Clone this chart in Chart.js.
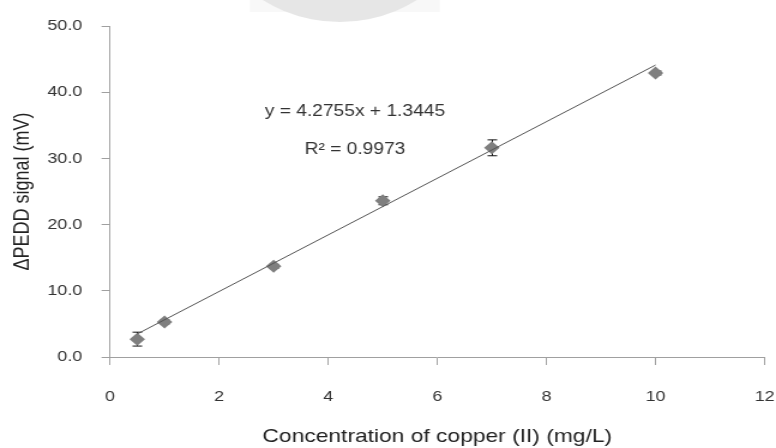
<!DOCTYPE html>
<html>
<head>
<meta charset="utf-8">
<script src="https://cdn.jsdelivr.net/npm/chart.js@4.4.0/dist/chart.umd.min.js"></script>
<style>
  html, body { margin: 0; padding: 0; background: #fff; overflow: hidden; }
  #wrap { width: 776px; height: 448px; }
  /* the reference is stretched sideways, so draw narrow and stretch */
  #c { transform-origin: 0 0; transform: scaleX(1.1994); }
</style>
</head>
<body>
<div id="wrap"><canvas id="c" width="647" height="448"></canvas></div>
<script>
// data
const concentrations = [0.5, 1, 3, 5, 7, 10];
const signals = [2.7, 5.3, 13.7, 23.6, 31.6, 42.9];
const errors = [1.05, 0.3, 0.3, 0.6, 1.2, 0.3];
const fitSlope = 4.2755;
const fitIntercept = 1.3445;
const fitR2 = 0.9973;
const fitRange = [0.5, 10];

const FONT = '"Liberation Sans", Arial, sans-serif';
const AXIS_GRAY = '#a0a0a0';

const points = concentrations.map((x, i) => ({ x, y: signals[i] }));
const fitLine = fitRange.map(x => ({ x, y: fitSlope * x + fitIntercept }));

// faint watermark blob at the top
const watermark = {
  id: 'watermark',
  beforeDraw(chart) {
    const ctx = chart.ctx;
    ctx.save();
    ctx.fillStyle = '#f8f8f8';
    ctx.fillRect(250 / 1.2, 0, 190 / 1.2, 12);
    ctx.fillStyle = '#e6e6e6';
    ctx.beginPath();
    ctx.ellipse(340 / 1.2, -124, 146 / 1.2, 146, 0, 0, Math.PI * 2);
    ctx.fill();
    ctx.restore();
  }
};

const errorBars = {
  id: 'errorBars',
  beforeDatasetsDraw(chart) {
    const ctx = chart.ctx;
    const ys = chart.scales.y;
    const meta = chart.getDatasetMeta(1);
    ctx.save();
    ctx.strokeStyle = '#111';
    ctx.lineWidth = 1;
    meta.data.forEach((pt, i) => {
      const x = Math.round(pt.x) + 0.5;
      const top = ys.getPixelForValue(signals[i] + errors[i]);
      const bot = ys.getPixelForValue(signals[i] - errors[i]);
      ctx.beginPath();
      ctx.moveTo(x, top); ctx.lineTo(x, bot);
      ctx.moveTo(x - 4, top); ctx.lineTo(x + 4, top);
      ctx.moveTo(x - 4, bot); ctx.lineTo(x + 4, bot);
      ctx.stroke();
    });
    ctx.restore();
  }
};

const equation = {
  id: 'equation',
  afterDraw(chart) {
    const ctx = chart.ctx;
    const xs = chart.scales.x, ys = chart.scales.y;
    ctx.save();
    ctx.fillStyle = '#333';
    ctx.font = '16px ' + FONT;
    ctx.textAlign = 'center';
    ctx.textBaseline = 'middle';
    const cx = xs.getPixelForValue(4.49);
    ctx.fillText(`y = ${fitSlope}x + ${fitIntercept}`, cx, ys.getPixelForValue(37.0));
    ctx.fillText(`R\u00B2 = ${fitR2}`, cx, ys.getPixelForValue(31.3));
    ctx.restore();
  }
};

new Chart(document.getElementById('c'), {
  type: 'scatter',
  data: {
    datasets: [
      {
        type: 'line',
        data: fitLine,
        borderColor: '#555',
        borderWidth: 1,
        pointRadius: 0,
        fill: false
      },
      {
        data: points,
        pointStyle: 'rectRot',
        pointRadius: 6.5,
        backgroundColor: '#7f7f7f',
        borderColor: '#7f7f7f',
        borderWidth: 0
      }
    ]
  },
  options: {
    responsive: false,
    animation: false,
    layout: { padding: { top: 26, right: 9.5, left: 0, bottom: 0 } },
    plugins: { legend: { display: false }, tooltip: { enabled: false } },
    scales: {
      x: {
        type: 'linear',
        min: 0, max: 12,
        afterFit(s) { s.height = 91; s.paddingRight = 0; s.paddingLeft = 0; },
        ticks: { stepSize: 2, maxRotation: 0, padding: 23, color: '#333', font: { family: FONT, size: 15 } },
        grid: { drawOnChartArea: false, tickLength: 8, color: AXIS_GRAY },
        border: { color: AXIS_GRAY },
        title: {
          display: true,
          text: 'Concentration of copper (II) (mg/L)',
          color: '#222',
          font: { family: FONT, size: 19 },
          padding: { top: 0, bottom: 0 }
        }
      },
      y: {
        min: 0, max: 50,
        afterFit(s) { s.width = 91.7; },
        ticks: { stepSize: 10, padding: 16, color: '#333', font: { family: FONT, size: 15 },
          callback: v => Number(v).toFixed(1) },
        grid: { drawOnChartArea: false, tickLength: 7, color: AXIS_GRAY },
        border: { color: AXIS_GRAY },
        title: {
          display: true,
          text: '\u0394PEDD signal (mV)',
          color: '#222',
          font: { family: FONT, size: 18 },
          padding: { top: 8, bottom: 0 }
        }
      }
    }
  },
  plugins: [watermark, errorBars, equation]
});
</script>
</body>
</html>
